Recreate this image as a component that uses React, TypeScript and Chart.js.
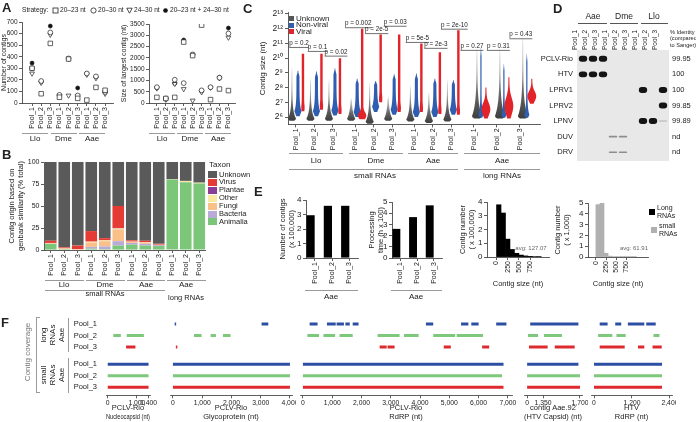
import React, { useEffect, useRef } from "react";
import { Chart, registerables } from "chart.js";

Chart.register(...registerables);
const FONT = "'Liberation Sans', Arial, Helvetica, sans-serif";
Chart.defaults.font.family = FONT;
Chart.defaults.color = "#222";

// ================= DATA =================
// Panel A
const aCategories = ["Pool_1", "Pool_2", "Pool_3", "Pool_1", "Pool_2", "Pool_3", "Pool_1", "Pool_2", "Pool_3"];
const aGroups = ["Llo", "Dme", "Aae"];
const strategyNames = ["20–23 nt", "20–30 nt", "24–30 nt", "20–23 nt + 24–30 nt"];
const contigs2023 = [300, 80, 515, 50, 380, 40, 25, 135, 110];
const contigs2030 = [300, 190, 610, 70, 385, 65, 255, 230, 95];
const contigs2430 = [255, 175, 590, 60, 65, 60, 245, 215, 80];
const contigsCombined = [345, 185, 665, 65, 380, 130, 255, 225, 105];
const largest2023 = [250, 200, 250, 2700, 2100, 3450, 150, 620, 550];
const largest2030 = [700, 200, 1030, 880, 2150, 560, 700, 1120, 3080];
const largest2430 = [650, 150, 850, 620, 110, 480, 680, 1100, 2900];
const largestCombined = [680, 180, 870, 2790, 2150, 540, 700, 1140, 3320];
const contigTicks = [0, 100, 200, 300, 400, 500, 600, 700];
const largestTicks = [0, 500, 1000, 1500, 2000, 2500, 3000, 3500];

// Panel B
const bCategories = ["Pool_1", "Pool_2", "Pool_3", "Pool_1", "Pool_2", "Pool_3", "Pool_1", "Pool_2", "Pool_3", "Pool_1", "Pool_2", "Pool_3"];
const taxa = ["Unknown", "Virus", "Plantae", "Other", "Fungi", "Bacteria", "Animalia"];
const taxonColors = ["#5a5a5a", "#e63b34", "#8a3e97", "#fbe8a2", "#f9c08a", "#b8abd7", "#7cc67a"];
const animalia = [7, 1, 0.5, 1.5, 1, 5, 6, 5, 4.5, 80, 77, 75.5];
const bacteria = [0, 0, 0, 2, 3, 5, 2, 2, 1, 0, 0, 0];
const fungi = [0.5, 1, 0.5, 5, 6, 13.5, 1, 1.5, 0.5, 0, 0, 0];
const other = [0.5, 0, 0, 1, 1, 1, 0.5, 0.5, 0, 0.5, 1.5, 1];
const plantae = [0, 0, 0, 0, 0, 0.5, 0, 0, 0, 0, 0, 0];
const virus = [2.5, 1, 4, 12, 2.5, 25, 1.5, 1.5, 1, 0, 0, 0];
const unknown = [89.5, 97, 95, 78.5, 86.5, 50, 89, 89.5, 93, 19.5, 21.5, 23.5];
const percentTicks = [0, 25, 50, 75, 100];

// Panel C (log2 contig size)
const cPools = ["Pool_1", "Pool_2", "Pool_3", "Pool_1", "Pool_2", "Pool_3", "Pool_1", "Pool_2", "Pool_3", "Pool_1", "Pool_2", "Pool_3"];
const cTickValues = [6, 7, 8, 9, 10, 11, 12, 13];
const cTickLabels = ["2⁶", "2⁷", "2⁸", "2⁹", "2¹⁰", "2¹¹", "2¹²", "2¹³"];
const unknownMin = [5.75, 5.75, 5.75, 5.75, 5.55, 5.75, 5.7, 5.6, 5.7, 5.9, 5.9, 5.9];
const unknownMax = [9.5, 8.7, 8.6, 7.3, 8.4, 7.4, 8.2, 7.7, 8.6, 10.8, 10.8, 11.6];
const nonviralMin = [6.05, 6.05, 6.1, 6.0, 6.35, 6.15, 6.0, 6.0, 6.15, 5.95, 5.95, 5.95];
const nonviralMax = [9.15, 9.1, 9.3, 8.6, 8.45, 8.9, 8.95, 8.6, 8.5, 10.7, 9.6, 10.3];
const viralMin = [6.4, 6.5, 6.2, 5.85, 7.0, 6.35, 6.35, 6.2, 6.15, 5.9, 5.9, 6.9];
const viralMax = [10.3, 10.3, 10.0, 12.0, 11.6, 11.6, 11.0, 10.4, 11.9, 8.0, 8.7, 8.6];
const viralBulk = [0.15, 0.15, 0.15, 1, 0.15, 0.2, 0.15, 0.15, 0.15, 1, 1, 1];
const pValues = ["p = 0.2", "p = 0.1", "p = 0.02", "p = 0.002", "p = 2e-5", "p = 0.03", "p = 5e-5", "p = 2e-3", "p = 2e-10", "p = 0.27", "p = 0.31", "p = 0.43"];
const pLevel = [10.76, 10.49, 10.17, 12.1, 11.7, 12.2, 11.1, 10.7, 12.0, 10.56, 10.56, 11.35];

// Panel D (gel)
const gelLanes = ["Pool_1", "Pool_2", "Pool_3", "Pool_1", "Pool_2", "Pool_3", "Pool_1", "Pool_2", "Pool_3"];
const gelRows = ["PCLV-Rio", "HTV", "LPRV1", "LPRV2", "LPNV", "DUV", "DRV"];
const gelIdentity = ["99.95", "100", "100", "99.85", "99.89", "nd", "nd"];
const bandPCLV = [1, 1, 1, 0, 0, 0, 0, 0, 0];
const bandHTV = [0.9, 0.9, 0.9, 0, 0, 0, 0, 0, 0];
const bandLPRV1 = [0, 0, 0, 0, 0, 0, 1, 0, 1];
const bandLPRV2 = [0, 0, 0, 0, 0, 0, 0, 0, 1];
const bandLPNV = [0, 0, 0, 0, 0, 0, 1, 1, 0.15];
const bandDUV = [0, 0, 0, 0.35, 0.35, 0, 0, 0, 0];
const bandDRV = [0, 0, 0, 0.35, 0.35, 0, 0, 0, 0];
const gelBands = [bandPCLV, bandHTV, bandLPRV1, bandLPRV2, bandLPNV, bandDUV, bandDRV];

// Panel E
const ePools = ["Pool_1", "Pool_2", "Pool_3"];
const contigCountLong = [2.95, 3.6, 3.6];
const contigCountSmall = [0.03, 0.03, 0.03];
const procTimeLong = [2.6, 3.65, 4.7];
const procTimeSmall = [0.04, 0.04, 0.04];
const histBins = [50, 150, 250, 350, 450, 550, 650, 750, 850, 950];
const longHist = [3.8, 3.2, 1.3, 0.55, 0.27, 0.14, 0.08, 0.05, 0.03, 0.02];
const smallHist = [4.85, 5.05, 0.35, 0.08, 0.04, 0.02, 0.01, 0.01, 0.005, 0.005];
const histTicks = [0, 250, 500, 750];
const ticks0to4 = [0, 1, 2, 3, 4];
const ticks0to5 = [0, 1, 2, 3, 4, 5];

// Panel F (coverage segments, nt) rows: long P1..P3, small P1..P3
const trackRows = ["Pool_1", "Pool_2", "Pool_3", "Pool_1", "Pool_2", "Pool_3"];
const nucleocapsidCov = [[], [[190, 450], [650, 1240]], [[630, 950]], [[0, 1400]], [[0, 1400]], [[0, 1400]]];
const glycoproteinCov = [[[60, 110], [3030, 3260]], [[720, 980], [1290, 1470], [1710, 1970]], [[100, 150]], [[0, 4000]], [[0, 4000]], [[0, 4000]]];
const rdrpCov = [
  [[230, 500], [820, 1120], [1150, 1400], [1450, 1600], [1700, 1900], [4200, 4450], [5400, 5650], [5750, 6000], [6600, 6950]],
  [[150, 550], [700, 1100], [1250, 1700], [2550, 3300], [3450, 3950], [4450, 5200], [5250, 6150]],
  [[2620, 2860], [2890, 3130], [4810, 5050], [6120, 6360]],
  [[0, 6850]], [[0, 6800]], [[0, 6850]],
];
const capsidCov = [[[100, 800], [800, 1650]], [[30, 350], [540, 1120]], [[60, 660], [890, 1530]], [[0, 1650]], [[0, 1700]], [[0, 1700]]];
const htvRdrpCov = [
  [[180, 430], [670, 860], [1070, 1590], [1650, 1950]],
  [[130, 580], [710, 1000], [1880, 2070]],
  [[180, 970], [1390, 1590], [1850, 2140]],
  [[0, 2150]], [[0, 2150]], [[0, 2150]],
];
const nucTicks = [0, 1000, 1400];
const glyTicks = [0, 1000, 2000, 3000, 4000];
const rdrpTicks = [0, 1000, 2000, 3000, 4000, 5000, 6000, 7000];
const capsidTickPos = [0, 513, 1700];
const capsidTickLabels = ["0", "1,350", "1,700"];
const htvTicks = [0, 1200, 2400];

// ================= HELPERS =================
const AXIS = "#333";
const poolColors = ["#2c4fa3", "#7ec87c", "#dc2a2e"];
const fixW = (w: number) => (s: any) => { s.width = w; s.paddingTop = 0; s.paddingBottom = 0; s.paddingLeft = 0; s.paddingRight = 0; };
const fixH = (h: number) => (s: any) => { s.height = h; s.paddingTop = 0; s.paddingBottom = 0; s.paddingLeft = 0; s.paddingRight = 0; };
const setTicks = (vals: number[]) => (s: any) => { s.ticks = vals.map((v) => ({ value: v })); };
const f = (size: number, weight: any = "normal") => ({ family: FONT, size, weight });
const tickGrid = { display: true, drawOnChartArea: false, drawTicks: true, tickLength: 3, color: AXIS, lineWidth: 0.8, offset: false };
const noGrid = { display: false, drawTicks: false };
const axisBorder = { display: true, color: AXIS, width: 0.8 };
const noBorder = { display: false };
const fmt = (v: number) => v.toLocaleString("en-US");

function baseOptions(padding: any) {
  return {
    responsive: false,
    animation: false,
    events: [],
    layout: { padding },
    plugins: { legend: { display: false }, tooltip: { enabled: false } },
  };
}

function valueAxis(ticksArr: number[], fontSize: number, title: any, titlePad: number, width: number, titleSize = 7.5, extra: any = {}) {
  return {
    min: ticksArr[0], max: ticksArr[ticksArr.length - 1],
    afterBuildTicks: setTicks(ticksArr),
    ticks: { callback: (v: any, i: number) => String(ticksArr[i]), font: f(fontSize), padding: 1.5, autoSkip: false },
    grid: tickGrid, border: axisBorder,
    title: { display: true, text: title, font: f(titleSize), padding: { top: titlePad, bottom: 0 } },
    afterFit: fixW(width),
    ...extra,
  };
}

function ChartCanvas({ x, y, w, h, make }: { x: number; y: number; w: number; h: number; make: () => any }) {
  const ref = useRef<HTMLCanvasElement>(null);
  useEffect(() => {
    const chart = new Chart(ref.current as HTMLCanvasElement, make());
    return () => chart.destroy();
  }, []);
  return <canvas ref={ref} width={w} height={h} style={{ position: "absolute", left: x, top: y, width: w, height: h }} />;
}

function Txt(p: { x: number; y: number; s?: number; a?: string; w?: number; c?: string; r?: number; children: any }) {
  const { x, y, s = 8, a = "c", w = 400, c = "#222", r = 0 } = p;
  const tx = a === "c" ? "-50%" : a === "r" ? "-100%" : "0%";
  return (
    <div style={{ position: "absolute", left: x, top: y, fontSize: s, fontWeight: w, color: c, whiteSpace: "pre", lineHeight: 1.12, textAlign: a === "l" ? "left" : a === "r" ? "right" : "center", transform: `translate(${tx}, -50%)${r ? ` rotate(${r}deg)` : ""}` }}>
      {p.children}
    </div>
  );
}
const HLine = ({ x1, x2, y, c = "#9a9a9a" }: any) => <div style={{ position: "absolute", left: x1, top: y, width: x2 - x1, height: 1, background: c }} />;
const VLine = ({ x, y1, y2, c = "#9a9a9a" }: any) => <div style={{ position: "absolute", left: x, top: y1, width: 1, height: y2 - y1, background: c }} />;
const Swatch = ({ x, y, w, h, c }: any) => <div style={{ position: "absolute", left: x, top: y, width: w, height: h, background: c }} />;
function Sym({ x, y, kind }: { x: number; y: number; kind: number }) {
  const shape =
    kind === 0 ? <rect x={1} y={1} width={5} height={5} fill="#fff" stroke="#222" strokeWidth={0.8} /> :
    kind === 1 ? <circle cx={3.5} cy={3.5} r={2.6} fill="#fff" stroke="#222" strokeWidth={0.8} /> :
    kind === 2 ? <polygon points="0.8,1.2 6.2,1.2 3.5,6.2" fill="#fff" stroke="#222" strokeWidth={0.8} /> :
    <circle cx={3.5} cy={3.5} r={2.3} fill="#111" />;
  return <svg width={7} height={7} style={{ position: "absolute", left: x, top: y - 3.5 }}>{shape}</svg>;
}

// ================= PANEL A =================
function makeScatterA(series: number[][], ticksArr: number[], title: string, xMin: number, xMax: number, yW: number, xH: number, pad: any, titlePad: number) {
  const styles = [
    { ps: "rect", r: 3.2, bg: "#fff", rot: 0 },
    { ps: "circle", r: 2.4, bg: "#fff", rot: 0 },
    { ps: "triangle", r: 2.8, bg: "#fff", rot: 180 },
    { ps: "circle", r: 2.0, bg: "#111", rot: 0 },
  ];
  return {
    type: "scatter",
    data: {
      datasets: series.map((vals, k) => ({
        label: strategyNames[k],
        data: vals.map((v, i) => ({ x: i, y: v })),
        pointStyle: styles[k].ps,
        pointRadius: styles[k].r,
        pointRotation: styles[k].rot,
        pointBackgroundColor: styles[k].bg,
        pointBorderColor: "#222",
        pointBorderWidth: 0.7,
      })),
    },
    options: {
      ...baseOptions(pad),
      scales: {
        x: {
          type: "linear", min: xMin, max: xMax,
          afterBuildTicks: (s: any) => { s.ticks = aCategories.map((_, i) => ({ value: i })); },
          ticks: { callback: (v: any, i: number) => aCategories[i], minRotation: 90, maxRotation: 90, autoSkip: false, font: f(7), padding: 1 },
          grid: tickGrid, border: axisBorder, afterFit: fixH(xH),
        },
        y: valueAxis(ticksArr, 6.5, title, titlePad, yW, 7, { type: "linear" }),
      },
    },
  };
}

// ================= PANEL B =================
function makeStackB() {
  const series = [unknown, virus, plantae, other, fungi, bacteria, animalia];
  const order = [6, 5, 4, 3, 2, 1, 0];
  return {
    type: "bar",
    data: {
      labels: bCategories,
      datasets: order.map((k) => ({
        label: taxa[k], data: series[k], backgroundColor: taxonColors[k],
        barPercentage: 0.86, categoryPercentage: 1, borderWidth: 0,
      })),
    },
    options: {
      ...baseOptions({ top: 12, right: 0, left: 0, bottom: 0 }),
      scales: {
        x: { stacked: true, ticks: { minRotation: 90, maxRotation: 90, autoSkip: false, font: f(7), padding: 1 }, grid: tickGrid, border: axisBorder, afterFit: fixH(32) },
        y: valueAxis(percentTicks, 7, ["Contig origin based on", "genbank similarity (% total)"], 7, 44, 7.5, { stacked: true, type: "linear" }),
      },
    },
  };
}

// ================= PANEL C =================
const cPos = cPools.map((_, i) => (i < 9 ? i + 0.2 * Math.floor(i / 3) : 9.62 + 1.24 * (i - 9)));

function halfWidth(kind: number, long: boolean, v: number, min: number, max: number, bulk: number) {
  const range = max - min;
  const taper = Math.max(0.25, Math.min(1, (max - v) / (0.12 * range + 0.01)));
  if (kind === 0) {
    const pk = min + 0.12;
    const W = long ? 5.2 : 4.2;
    const dec = long ? 0.85 : 0.5;
    const hw = v < pk ? W * (0.55 + 0.45 * (v - min) / 0.12) : 0.35 + (W - 0.35) * Math.exp(-(v - pk) / dec);
    return hw * taper;
  }
  if (kind === 1) {
    const pk = min + (long ? 0.2 : 0.35);
    const W = long ? 2.6 : 3.6;
    const tail = long ? 0.6 : 1.5;
    const hw = v < pk ? W * (0.45 + 0.55 * (v - min) / (pk - min)) : tail + (W - tail) * Math.exp(-(v - pk) / 0.4);
    return hw * taper;
  }
  if (long) {
    const c = min + 0.3 * range;
    return 0.5 + 3.9 * Math.exp(-Math.pow((v - c) / (0.28 * range), 2));
  }
  return 1.2 + bulk * 3.0 * Math.exp(-Math.pow((v - (min + 0.25)) / 0.3, 2));
}

function drawViolin(ctx: CanvasRenderingContext2D, yS: any, cx: number, kind: number, long: boolean, min: number, max: number, bulk: number, fill: any) {
  const N = 60;
  const pts: number[][] = [];
  for (let k = 0; k <= N; k++) {
    const v = min + ((max - min) * k) / N;
    pts.push([yS.getPixelForValue(v), halfWidth(kind, long, v, min, max, bulk)]);
  }
  ctx.beginPath();
  pts.forEach(([py, hw], k) => (k === 0 ? ctx.moveTo(cx - hw, py) : ctx.lineTo(cx - hw, py)));
  for (let k = N; k >= 0; k--) ctx.lineTo(cx + pts[k][1], pts[k][0]);
  ctx.closePath();
  ctx.fillStyle = fill;
  ctx.fill();
}

const violinPlugin = {
  id: "violins",
  afterDraw(chart: any) {
    const { ctx } = chart;
    const xS = chart.scales.x;
    const yS = chart.scales.y;
    ctx.save();
    cPos.forEach((p, i) => {
      const long = i >= 9;
      const tx = xS.getPixelForValue(p);
      const gx = tx + (long ? 3 : -4);
      const bx = tx + (long ? 7 : 2);
      const rx = tx + (long ? 12 : 7);
      const g = ctx.createLinearGradient(0, yS.getPixelForValue(unknownMin[i]), 0, yS.getPixelForValue(unknownMax[i]));
      g.addColorStop(0, "#3e3e3e");
      g.addColorStop(0.35, "#6a6a6a");
      g.addColorStop(1, "rgba(205,205,205,0.7)");
      drawViolin(ctx, yS, gx, 0, long, unknownMin[i], unknownMax[i], 1, g);
      drawViolin(ctx, yS, bx, 1, long, nonviralMin[i], nonviralMax[i], 1, "#2f5db0");
      drawViolin(ctx, yS, rx, 2, long, viralMin[i], viralMax[i], viralBulk[i], "#e2232a");
      ctx.font = `6.3px ${FONT}`;
      const cxp = tx + (long ? (i === 9 ? -2 : i === 10 ? 1.5 : 1) : 3);
      const py = yS.getPixelForValue(pLevel[i]);
      const w = ctx.measureText(pValues[i]).width;
      ctx.fillStyle = "#222";
      ctx.textAlign = "center";
      ctx.textBaseline = "bottom";
      ctx.fillText(pValues[i], cxp, py - 0.5);
      ctx.strokeStyle = "#333";
      ctx.lineWidth = 0.7;
      ctx.beginPath();
      ctx.moveTo(cxp - w / 2, py + 0.5);
      ctx.lineTo(cxp + w / 2, py + 0.5);
      ctx.stroke();
    });
    ctx.restore();
  },
};

function makeViolinC() {
  return {
    type: "scatter",
    data: { datasets: [] },
    options: {
      ...baseOptions({ top: 8.5, right: 4, left: 0, bottom: 0 }),
      scales: {
        x: {
          type: "linear", min: -0.43, max: 13.19,
          afterBuildTicks: (s: any) => { s.ticks = cPos.map((v) => ({ value: v })); },
          ticks: { callback: (v: any, i: number) => cPools[i], minRotation: 90, maxRotation: 90, autoSkip: false, font: f(7), padding: 1 },
          grid: tickGrid, border: axisBorder, afterFit: fixH(29.6),
        },
        y: {
          type: "linear", min: 5.5, max: 13.1,
          afterBuildTicks: setTicks(cTickValues),
          ticks: { callback: (v: any, i: number) => cTickLabels[i], font: f(8.5), padding: 2, autoSkip: false },
          grid: tickGrid, border: axisBorder,
          title: { display: true, text: "Contig size (nt)", font: f(8), padding: { top: 10, bottom: 0 } },
          afterFit: fixW(40),
        },
      },
    },
    plugins: [violinPlugin],
  };
}

// ================= PANEL D =================
const gelBackground = {
  id: "gelbg",
  beforeDatasetsDraw(chart: any) {
    const { ctx, chartArea } = chart;
    ctx.save();
    ctx.fillStyle = "#e8e8e8";
    ctx.fillRect(chartArea.left - 1, chartArea.top - 1, chartArea.right - chartArea.left + 2, chartArea.bottom - chartArea.top + 2);
    ctx.restore();
  },
};
const bandHalf = (v: number) => (v >= 0.5 ? 0.19 : 0.05);
const bandColor = (v: number) => (v >= 0.5 ? "#141414" : v >= 0.3 ? "#8d8d8d" : "#c2c2c2");

function makeGelD() {
  const rowAxis = (labels: string[], pos: string, width: number, pad: number) => ({
    type: "linear", position: pos, reverse: true, min: -0.5, max: 6.5,
    afterBuildTicks: (s: any) => { s.ticks = gelRows.map((_, i) => ({ value: i })); },
    ticks: { callback: (v: any, i: number) => labels[i], font: f(7.5), padding: pad, autoSkip: false },
    grid: noGrid, border: noBorder, afterFit: fixW(width),
  });
  return {
    type: "bar",
    data: {
      labels: gelLanes,
      datasets: gelBands.map((row, r) => ({
        label: gelRows[r],
        data: row.map((v) => (v > 0 ? [r - bandHalf(v), r + bandHalf(v)] : null)),
        backgroundColor: row.map(bandColor),
        borderRadius: 3, borderSkipped: false, grouped: false,
        barPercentage: 0.84, categoryPercentage: 1, yAxisID: "y",
      })),
    },
    options: {
      ...baseOptions({ top: 25, right: 0, left: 0, bottom: 10 }),
      scales: {
        x: { position: "top", ticks: { minRotation: 90, maxRotation: 90, autoSkip: false, font: f(6.5), padding: 1 }, grid: noGrid, border: noBorder, afterFit: fixH(26) },
        y: rowAxis(gelRows, "left", 38, 5),
        y2: rowAxis(gelIdentity, "right", 28, 4),
      },
    },
    plugins: [gelBackground],
  };
}

// ================= PANEL E =================
function makeBarsE(longVals: number[], smallVals: number[], ticksArr: number[], title: string[], yW: number, pad: any, titlePad: number) {
  return {
    type: "bar",
    data: {
      labels: ePools,
      datasets: [
        { label: "Long RNAs", data: longVals, backgroundColor: "#000", categoryPercentage: 0.95, barPercentage: 1 },
        { label: "small RNAs", data: smallVals, backgroundColor: "#b5b5b5", categoryPercentage: 0.95, barPercentage: 1 },
      ],
    },
    options: {
      ...baseOptions(pad),
      scales: {
        x: { ticks: { minRotation: 90, maxRotation: 90, autoSkip: false, font: f(7), padding: 1 }, grid: tickGrid, border: axisBorder, afterFit: fixH(32) },
        y: valueAxis(ticksArr, 8, title, titlePad, yW, 7.5, { type: "linear" }),
      },
    },
  };
}

function makeHistE(counts: number[], color: string, ticksArr: number[], xMax: number, xMin: number, title: string[], yW: number, pad: any, titlePad: number) {
  return {
    type: "bar",
    data: {
      datasets: [{ label: "hist", data: histBins.map((b, i) => ({ x: b, y: counts[i] })), backgroundColor: color, barPercentage: 1, categoryPercentage: 1, borderWidth: 0 }],
    },
    options: {
      ...baseOptions(pad),
      scales: {
        x: {
          type: "linear", min: xMin, max: xMax,
          afterBuildTicks: setTicks(histTicks),
          ticks: { callback: (v: any, i: number) => String(histTicks[i]), minRotation: 90, maxRotation: 90, autoSkip: false, font: f(7), padding: 1 },
          grid: tickGrid, border: axisBorder,
          title: { display: true, text: "Contig size (nt)", font: f(7.5), padding: { top: 0, bottom: 1.5 } },
          afterFit: fixH(33),
        },
        y: valueAxis(ticksArr, 8, title, titlePad, yW, 7.5, { type: "linear" }),
      },
    },
  };
}

// ================= PANEL F =================
const rowY = (r: number) => r + (r >= 3 ? 0.5 : 0);
function makeTrack(cov: number[][][], xMin: number, xMax: number, tickPos: number[], tickLabels: string[], title: string[], pad: any, showRows: boolean) {
  return {
    type: "line",
    data: {
      datasets: cov.map((segs, r) => ({
        label: trackRows[r],
        data: segs.flatMap(([s, e]) => [{ x: s, y: rowY(r) }, { x: e, y: rowY(r) }, { x: e, y: null }]),
        borderColor: poolColors[r % 3], borderWidth: r < 3 ? 2.8 : 3.2,
        pointRadius: 0, spanGaps: false, borderCapStyle: "butt", tension: 0, fill: false,
      })),
    },
    options: {
      ...baseOptions(pad),
      scales: {
        x: {
          type: "linear", min: xMin, max: xMax,
          afterBuildTicks: setTicks(tickPos),
          ticks: { callback: (v: any, i: number) => tickLabels[i], maxRotation: 0, minRotation: 0, autoSkip: false, font: f(6.8), padding: 1 },
          grid: tickGrid, border: axisBorder,
          title: { display: true, text: title, font: f(7.5), padding: { top: 0, bottom: 0.5 } },
          afterFit: fixH(26.7),
        },
        y: {
          type: "linear", reverse: true, min: -0.8, max: 6.2, display: showRows,
          afterBuildTicks: (s: any) => { s.ticks = trackRows.map((_, r) => ({ value: rowY(r) })); },
          ticks: { callback: (v: any, i: number) => trackRows[i], font: f(7.5), padding: 9, autoSkip: false },
          grid: noGrid, border: noBorder, afterFit: fixW(showRows ? 36 : 0),
        },
      },
    },
  };
}

// ================= APP =================
export default function App() {
  const fTop = 310, fH = 112, fPad = 4.8;
  return (
    <div style={{ position: "fixed", left: 0, top: 0, width: 696, height: 422, background: "#fff", overflow: "hidden", fontFamily: FONT, color: "#222" }}>
      {/* Panel A */}
      <ChartCanvas x={0} y={12} w={118} h={122} make={() => makeScatterA([contigs2023, contigs2030, contigs2430, contigsCombined], contigTicks, "Number of contigs", -1.1, 8.9, 22, 31, { top: 10, right: 4, left: 0, bottom: 0 }, 0)} />
      <ChartCanvas x={118} y={12} w={122} h={122} make={() => makeScatterA([largest2023, largest2030, largest2430, largestCombined], largestTicks, "Size of largest contig (nt)", -0.88, 8.77, 31, 31, { top: 12, right: 3, left: 0, bottom: 0 }, 2)} />
      <Txt x={2} y={8} s={13} w={700} a="l">A</Txt>
      <Txt x={22} y={10} s={6.6} a="l">Strategy:</Txt>
      <Sym x={52} y={10} kind={0} />
      <Txt x={60} y={10} s={6.6} a="l">20–23 nt</Txt>
      <Sym x={90} y={10} kind={1} />
      <Txt x={98} y={10} s={6.6} a="l">20–30 nt</Txt>
      <Sym x={126} y={10} kind={2} />
      <Txt x={134} y={10} s={6.6} a="l">24–30 nt</Txt>
      <Sym x={162} y={10} kind={3} />
      <Txt x={170} y={10} s={6.6} a="l">20–23 nt + 24–30 nt</Txt>
      {aGroups.map((g, k) => (
        <React.Fragment key={"al" + k}>
          <HLine x1={22 + k * 28.5} x2={48 + k * 28.5} y={133} />
          <Txt x={35 + k * 28.5} y={139} s={8}>{g}</Txt>
          <HLine x1={149 + k * 28} x2={175 + k * 28} y={133} />
          <Txt x={162 + k * 28} y={139} s={8}>{g}</Txt>
        </React.Fragment>
      ))}

      {/* Panel B */}
      <ChartCanvas x={0} y={150} w={206} h={132} make={makeStackB} />
      <Txt x={2} y={155} s={13} w={700} a="l">B</Txt>
      <Txt x={209} y={165} s={8} a="l">Taxon</Txt>
      {taxa.map((t, k) => (
        <React.Fragment key={"bl" + k}>
          <Swatch x={208} y={171 + k * 7.9} w={9} h={7} c={taxonColors[k]} />
          <Txt x={219} y={174.5 + k * 7.9} s={7.5} a="l">{t}</Txt>
        </React.Fragment>
      ))}
      <HLine x1={45} x2={84} y={280} />
      <HLine x1={86} x2={125} y={280} />
      <HLine x1={127} x2={165} y={280} />
      <HLine x1={167} x2={206} y={280} />
      <Txt x={64} y={285} s={8}>Llo</Txt>
      <Txt x={105} y={285} s={8}>Dme</Txt>
      <Txt x={146} y={285} s={8}>Aae</Txt>
      <Txt x={186} y={285} s={8}>Aae</Txt>
      <HLine x1={45} x2={165} y={290} />
      <Txt x={105} y={294} s={7.5}>small RNAs</Txt>
      <Txt x={186} y={298} s={7.5}>long RNAs</Txt>

      {/* Panel C */}
      <ChartCanvas x={248} y={4} w={296} h={150} make={makeViolinC} />
      <Txt x={243} y={9} s={13} w={700} a="l">C</Txt>
      <Swatch x={289} y={16} w={5} h={5} c="#555" />
      <Swatch x={289} y={22.5} w={5} h={5} c="#2f5db0" />
      <Swatch x={289} y={29} w={5} h={5} c="#e2232a" />
      <Txt x={296} y={18.5} s={8} a="l">Unknown</Txt>
      <Txt x={296} y={25} s={8} a="l">Non-viral</Txt>
      <Txt x={296} y={31.5} s={8} a="l">Viral</Txt>
      <HLine x1={289} x2={343} y={153} />
      <HLine x1={349} x2={403} y={153} />
      <HLine x1={408} x2={458} y={153} />
      <HLine x1={464} x2={540} y={153} />
      <Txt x={316} y={161} s={8}>Llo</Txt>
      <Txt x={376} y={161} s={8}>Dme</Txt>
      <Txt x={433} y={161} s={8}>Aae</Txt>
      <Txt x={502} y={161} s={8}>Aae</Txt>
      <HLine x1={289} x2={458} y={169} />
      <HLine x1={464} x2={540} y={169} />
      <Txt x={375} y={176} s={8}>small RNAs</Txt>
      <Txt x={502} y={176} s={8}>long RNAs</Txt>

      {/* Panel D */}
      <ChartCanvas x={540} y={0} w={156} h={170} make={makeGelD} />
      <Txt x={553} y={9} s={13} w={700} a="l">D</Txt>
      <Txt x={593} y={17} s={8.5}>Aae</Txt>
      <Txt x={624} y={17} s={8.5}>Dme</Txt>
      <Txt x={654} y={17} s={8.5}>Llo</Txt>
      <HLine x1={578} x2={607} y={23} c="#555" />
      <HLine x1={610} x2={638} y={23} c="#555" />
      <HLine x1={641} x2={668} y={23} c="#555" />
      <Txt x={670} y={38} s={5.6} a="l">{"% Identity\n(compared\nto Sanger)"}</Txt>

      {/* Panel E */}
      <Txt x={254} y={192} s={13} w={700} a="l">E</Txt>
      <ChartCanvas x={268} y={194} w={92} h={96} make={() => makeBarsE(contigCountLong, contigCountSmall, ticks0to4, ["Number of contigs", "(x 100,000)"], 38, { top: 6, right: 2, left: 0, bottom: 0 }, 10.5)} />
      <ChartCanvas x={352} y={194} w={92} h={96} make={() => makeBarsE(procTimeLong, procTimeSmall, ticks0to5, ["Processing", "time (h x 100)"], 40, { top: 8, right: 2, left: 0, bottom: 0 }, 15.5)} />
      <ChartCanvas x={452} y={194} w={100} h={96} make={() => makeHistE(longHist, "#000", ticks0to4, 1000, -40, ["Contig number", "( x 100,000)"], 35, { top: 8, right: 3, left: 0, bottom: 0 }, 6.5)} />
      <ChartCanvas x={548} y={194} w={102} h={96} make={() => makeHistE(smallHist, "#b0b0b0", ticks0to5, 1100, -10, ["Contig number", "( x 1,000)"], 40, { top: 9, right: 2, left: 0, bottom: 0 }, 5.5)} />
      <HLine x1={305} x2={358} y={290} />
      <Txt x={331} y={297} s={8}>Aae</Txt>
      <HLine x1={391} x2={442} y={290} />
      <Txt x={416} y={297} s={8}>Aae</Txt>
      <Txt x={531} y={248} s={6} c="#666">avg: 127.07</Txt>
      <Txt x={634} y={248} s={6} c="#666">avg: 61.91</Txt>
      <Swatch x={649} y={209} w={6} h={6} c="#000" />
      <Txt x={657} y={212} s={7} a="l">{"Long\nRNAs"}</Txt>
      <Swatch x={651} y={227} w={6} h={6} c="#b0b0b0" />
      <Txt x={659} y={230} s={7} a="l">{"small\nRNAs"}</Txt>

      {/* Panel F */}
      <Txt x={1} y={323} s={13} w={700} a="l">F</Txt>
      <Txt x={28} y={352} s={8} c="#777" r={-90}>Contig coverage</Txt>
      <VLine x={36} y1={317} y2={392} />
      <HLine x1={36} x2={40} y={317} />
      <HLine x1={36} x2={40} y={392} />
      <Txt x={49} y={335} s={8} r={-90}>{"long\nRNAs"}</Txt>
      <Txt x={49} y={375} s={8} r={-90}>{"small\nRNAs"}</Txt>
      <Txt x={62} y={335} s={8} r={-90}>Aae</Txt>
      <Txt x={62} y={375} s={8} r={-90}>Aae</Txt>
      <VLine x={68} y1={318} y2={352} />
      <VLine x={68} y1={358} y2={393} />
      <ChartCanvas x={70} y={fTop} w={92} h={fH} make={() => makeTrack(nucleocapsidCov, -60, 1450, nucTicks, nucTicks.map(fmt), ["PCLV-Rio", "Nucleocapsid (nt)"], { top: fPad, right: 12, left: 0, bottom: 0 }, true)} />
      <ChartCanvas x={166} y={fTop} w={130} h={fH} make={() => makeTrack(glycoproteinCov, -100, 4070, glyTicks, glyTicks.map(fmt), ["PCLV-Rio", "Glycoprotein (nt)"], { top: fPad, right: 4, left: 4, bottom: 0 }, false)} />
      <ChartCanvas x={296} y={fTop} w={220} h={fH} make={() => makeTrack(rdrpCov, -100, 7140, rdrpTicks, rdrpTicks.map(fmt), ["PCLV-Rio", "RdRP (nt)"], { top: fPad, right: 4, left: 4, bottom: 0 }, false)} />
      <ChartCanvas x={518} y={fTop} w={70} h={fH} make={() => makeTrack(capsidCov, -100, 1765, capsidTickPos, capsidTickLabels, ["contig Aae.92", "(HTV Capsid) (nt)"], { top: fPad, right: 6, left: 6, bottom: 0 }, false)} />
      <ChartCanvas x={586} y={fTop} w={90} h={fH} make={() => makeTrack(htvRdrpCov, -95, 2465, htvTicks, htvTicks.map(fmt), ["HTV", "RdRP (nt)"], { top: fPad, right: 4, left: 5, bottom: 0 }, false)} />
    </div>
  );
}
